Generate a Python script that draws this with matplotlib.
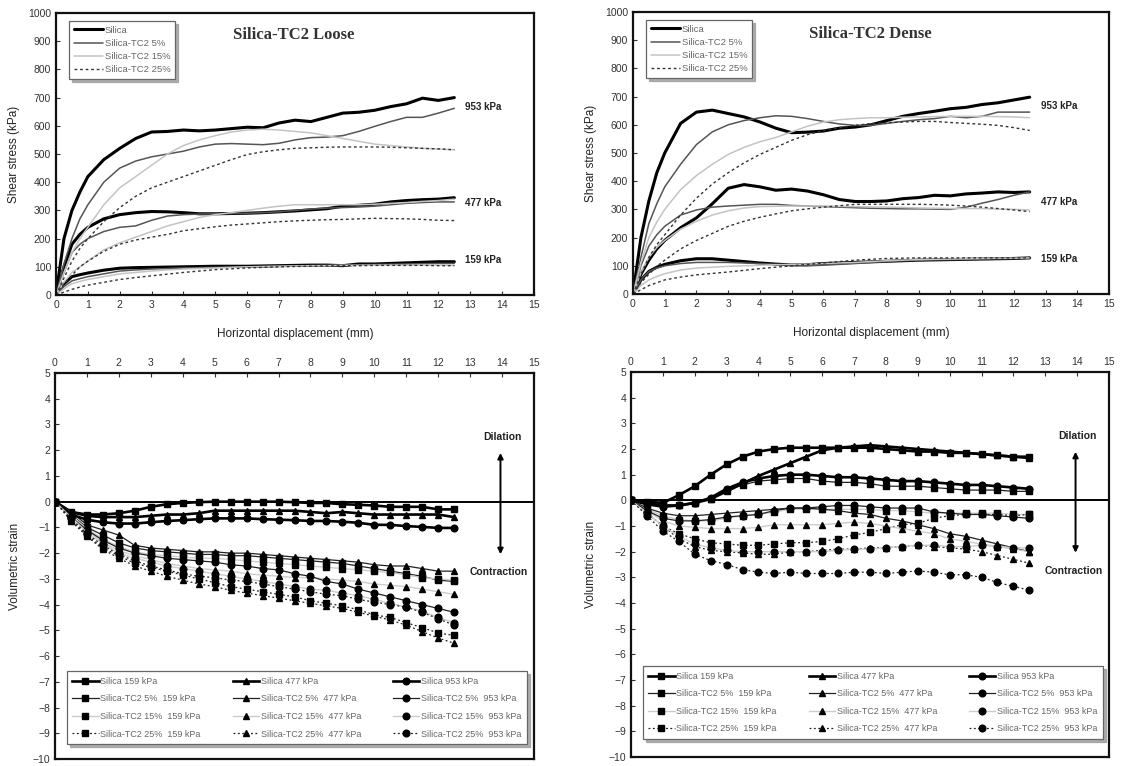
import matplotlib
matplotlib.use('Agg')
import matplotlib.pyplot as plt

plt.rcParams['font.family'] = ['Liberation Sans', 'DejaVu Sans']

# --- shear stress curves (top row) ---
top_x = [0, 0.25, 0.5, 0.75, 1, 1.5, 2, 2.5, 3, 3.5, 4, 4.5, 5, 5.5, 6, 6.5,
         7, 7.5, 8, 8.5, 9, 9.5, 10, 10.5, 11, 11.5, 12, 12.5]

# Loose
L_si_953 = [0, 200, 300, 365, 420, 480, 520, 555, 578, 580, 585, 582, 585, 590, 595, 593, 610, 620, 615, 630, 645, 648, 655, 668, 678, 698, 690, 700]
L_5_953 = [0, 110, 200, 270, 320, 400, 450, 475, 490, 500, 510, 525, 535, 537, 535, 533, 538, 550, 558, 560, 565, 580, 598, 615, 630, 630, 645, 662]
L_15_953 = [0, 80, 150, 200, 240, 320, 380, 420, 460, 500, 530, 550, 565, 578, 585, 588, 585, 580, 575, 565, 555, 545, 535, 530, 525, 520, 518, 515]
L_25_953 = [0, 60, 120, 165, 200, 260, 310, 350, 380, 400, 420, 440, 460, 480, 498, 508, 515, 520, 522, 524, 525, 525, 525, 524, 522, 520, 518, 515]
L_si_477 = [0, 100, 180, 215, 240, 270, 285, 292, 296, 295, 292, 288, 288, 289, 290, 292, 295, 298, 302, 306, 315, 318, 322, 330, 335, 338, 340, 345]
L_5_477 = [0, 80, 150, 180, 200, 225, 240, 245, 265, 280, 285, 287, 288, 289, 290, 292, 295, 300, 305, 308, 310, 312, 315, 320, 325, 328, 330, 330]
L_15_477 = [0, 45, 80, 100, 120, 160, 185, 205, 225, 245, 260, 275, 285, 292, 300, 308, 315, 320, 320, 320, 320, 320, 322, 325, 328, 332, 335, 340]
L_25_477 = [0, 40, 70, 100, 120, 155, 180, 195, 205, 215, 228, 235, 242, 248, 252, 256, 260, 263, 265, 267, 268, 270, 272, 271, 270, 268, 265, 264]
L_si_159 = [0, 40, 65, 72, 78, 88, 95, 97, 98, 99, 100, 101, 102, 102, 102, 103, 104, 105, 106, 106, 104, 110, 110, 112, 114, 116, 118, 118]
L_5_159 = [0, 30, 50, 58, 65, 75, 85, 89, 92, 94, 96, 97, 98, 99, 100, 101, 102, 103, 104, 105, 106, 107, 108, 109, 110, 111, 112, 112]
L_15_159 = [0, 22, 40, 48, 55, 65, 75, 80, 85, 89, 92, 94, 96, 98, 100, 101, 102, 103, 104, 104, 105, 105, 106, 106, 106, 106, 106, 105]
L_25_159 = [0, 10, 20, 28, 35, 45, 55, 62, 68, 74, 80, 85, 90, 93, 96, 98, 100, 101, 102, 103, 104, 104, 105, 105, 105, 105, 104, 104]

# Dense
D_si_953 = [0, 200, 330, 430, 500, 605, 645, 652, 640, 628, 610, 588, 572, 574, 578, 588, 592, 600, 615, 630, 640, 648, 657, 662, 672, 678, 688, 698]
D_5_953 = [0, 130, 250, 320, 380, 460, 530, 575, 600, 615, 625, 632, 630, 622, 612, 603, 598, 598, 605, 612, 618, 622, 630, 625, 630, 645, 645, 645]
D_15_953 = [0, 110, 200, 255, 300, 370, 420, 460, 495, 520, 540, 555, 575, 595, 610, 618, 622, 625, 625, 627, 628, 629, 630, 630, 630, 629, 628, 625]
D_25_953 = [0, 70, 130, 175, 210, 280, 340, 390, 430, 465, 495, 520, 545, 565, 580, 590, 598, 604, 608, 610, 612, 612, 608, 605, 602, 598, 590, 580]
D_si_477 = [0, 70, 120, 160, 190, 235, 270, 320, 375, 388, 380, 368, 372, 365, 352, 335, 328, 328, 330, 338, 342, 350, 348, 355, 358, 362, 360, 362]
D_5_477 = [0, 100, 170, 210, 240, 280, 298, 308, 312, 315, 318, 318, 314, 312, 310, 308, 306, 304, 303, 302, 302, 301, 300, 308, 322, 335, 350, 362]
D_15_477 = [0, 75, 130, 165, 190, 230, 258, 280, 295, 305, 310, 311, 312, 312, 312, 311, 310, 309, 308, 307, 305, 304, 303, 303, 303, 301, 300, 298]
D_25_477 = [0, 40, 70, 98, 120, 160, 190, 215, 240, 258, 272, 284, 295, 302, 308, 313, 318, 318, 318, 318, 318, 317, 315, 312, 308, 303, 298, 292]
D_si_159 = [0, 50, 80, 95, 105, 118, 125, 125, 120, 115, 110, 106, 103, 104, 108, 110, 112, 114, 116, 118, 120, 121, 122, 123, 124, 125, 126, 128]
D_5_159 = [0, 50, 80, 92, 100, 108, 112, 112, 112, 110, 108, 105, 102, 100, 102, 105, 108, 112, 115, 118, 120, 121, 122, 123, 124, 125, 126, 127]
D_15_159 = [0, 30, 50, 62, 72, 85, 92, 95, 98, 100, 102, 104, 105, 106, 108, 110, 112, 115, 118, 120, 122, 123, 124, 125, 126, 127, 127, 128]
D_25_159 = [0, 15, 30, 40, 50, 60, 68, 73, 78, 84, 90, 95, 100, 105, 110, 115, 120, 123, 126, 127, 128, 128, 128, 128, 128, 128, 128, 128]

# --- volumetric strain (bottom row) ---
vol_x = [0, 0.5, 1, 1.5, 2, 2.5, 3, 3.5, 4, 4.5, 5, 5.5, 6, 6.5, 7, 7.5, 8,
         8.5, 9, 9.5, 10, 10.5, 11, 11.5, 12, 12.5]

LV_si_159 = [0, -0.4, -0.5, -0.5, -0.45, -0.35, -0.2, -0.1, -0.05, -0.02, 0, 0, 0, 0, 0, -0.02, -0.05, -0.05, -0.1, -0.12, -0.15, -0.2, -0.2, -0.2, -0.3, -0.3]
LV_si_477 = [0, -0.4, -0.55, -0.6, -0.6, -0.6, -0.55, -0.5, -0.5, -0.45, -0.35, -0.35, -0.35, -0.35, -0.35, -0.35, -0.4, -0.45, -0.4, -0.45, -0.5, -0.5, -0.5, -0.5, -0.5, -0.6]
LV_si_953 = [0, -0.5, -0.7, -0.8, -0.85, -0.85, -0.8, -0.75, -0.72, -0.68, -0.65, -0.65, -0.65, -0.68, -0.7, -0.72, -0.75, -0.75, -0.78, -0.82, -0.9, -0.9, -0.95, -0.98, -1.02, -1.02]
LV_5_159 = [0, -0.5, -1.0, -1.3, -1.6, -1.8, -1.9, -1.95, -2.0, -2.05, -2.05, -2.1, -2.1, -2.15, -2.2, -2.25, -2.3, -2.35, -2.4, -2.5, -2.6, -2.7, -2.8, -2.9, -3.05, -3.1]
LV_5_477 = [0, -0.4, -0.9, -1.1, -1.3, -1.7, -1.8, -1.85, -1.9, -1.95, -1.95, -2.0, -2.0, -2.05, -2.1, -2.15, -2.2, -2.25, -2.3, -2.35, -2.45, -2.5, -2.5, -2.6, -2.7, -2.7]
LV_5_953 = [0, -0.6, -1.1, -1.5, -1.8, -2.0, -2.1, -2.2, -2.25, -2.3, -2.35, -2.45, -2.5, -2.6, -2.65, -2.8, -2.9, -3.1, -3.2, -3.4, -3.55, -3.7, -3.85, -4.0, -4.15, -4.3]
LV_15_159 = [0, -0.55, -1.05, -1.45, -1.75, -1.95, -2.05, -2.1, -2.15, -2.2, -2.2, -2.25, -2.3, -2.35, -2.4, -2.45, -2.5, -2.55, -2.6, -2.65, -2.7, -2.75, -2.85, -2.95, -3.0, -3.05]
LV_15_477 = [0, -0.5, -1.1, -1.6, -1.9, -2.1, -2.25, -2.4, -2.5, -2.6, -2.65, -2.7, -2.8, -2.85, -2.9, -2.95, -2.95, -3.0, -3.05, -3.1, -3.2, -3.25, -3.3, -3.4, -3.5, -3.6]
LV_15_953 = [0, -0.6, -1.2, -1.65, -2.0, -2.2, -2.35, -2.5, -2.6, -2.7, -2.8, -2.9, -3.0, -3.1, -3.2, -3.3, -3.4, -3.45, -3.55, -3.65, -3.8, -3.95, -4.1, -4.25, -4.5, -4.7]
LV_25_159 = [0, -0.7, -1.3, -1.8, -2.1, -2.4, -2.55, -2.7, -2.85, -3.0, -3.15, -3.3, -3.4, -3.5, -3.6, -3.7, -3.85, -3.95, -4.05, -4.2, -4.4, -4.5, -4.7, -4.9, -5.1, -5.2]
LV_25_477 = [0, -0.75, -1.35, -1.85, -2.2, -2.5, -2.7, -2.9, -3.05, -3.2, -3.3, -3.45, -3.55, -3.65, -3.75, -3.85, -3.95, -4.05, -4.15, -4.3, -4.45, -4.6, -4.8, -5.05, -5.3, -5.5]
LV_25_953 = [0, -0.65, -1.25, -1.7, -2.05, -2.3, -2.5, -2.65, -2.8, -2.9, -2.95, -3.05, -3.1, -3.2, -3.3, -3.4, -3.5, -3.6, -3.65, -3.8, -3.9, -4.0, -4.1, -4.3, -4.55, -4.8]

DV_si_159 = [0, -0.05, -0.1, 0.2, 0.55, 1.0, 1.4, 1.7, 1.9, 2.0, 2.05, 2.05, 2.05, 2.05, 2.05, 2.05, 2.0, 1.95, 1.9, 1.9, 1.85, 1.85, 1.8, 1.75, 1.7, 1.7]
DV_si_477 = [0, -0.1, -0.2, -0.2, -0.1, 0.05, 0.35, 0.65, 0.95, 1.2, 1.45, 1.7, 1.95, 2.05, 2.1, 2.15, 2.1, 2.05, 2.0, 1.95, 1.9, 1.85, 1.8, 1.75, 1.7, 1.65]
DV_si_953 = [0, -0.15, -0.25, -0.2, -0.1, 0.1, 0.45, 0.7, 0.85, 0.95, 1.0, 1.0, 0.95, 0.9, 0.9, 0.85, 0.8, 0.75, 0.75, 0.7, 0.65, 0.6, 0.6, 0.55, 0.5, 0.45]
DV_5_159 = [0, -0.15, -0.2, -0.2, -0.1, 0.05, 0.4, 0.6, 0.75, 0.8, 0.85, 0.85, 0.75, 0.7, 0.7, 0.65, 0.55, 0.55, 0.55, 0.5, 0.45, 0.4, 0.4, 0.4, 0.35, 0.35]
DV_5_477 = [0, -0.3, -0.5, -0.6, -0.6, -0.55, -0.5, -0.45, -0.4, -0.35, -0.3, -0.3, -0.35, -0.4, -0.5, -0.55, -0.7, -0.8, -0.95, -1.1, -1.3, -1.4, -1.55, -1.7, -1.85, -2.0]
DV_5_953 = [0, -0.4, -0.7, -0.8, -0.8, -0.75, -0.65, -0.6, -0.55, -0.4, -0.3, -0.3, -0.25, -0.2, -0.2, -0.25, -0.3, -0.3, -0.3, -0.45, -0.5, -0.55, -0.55, -0.6, -0.65, -0.7]
DV_15_159 = [0, -0.35, -0.6, -0.75, -0.8, -0.8, -0.7, -0.6, -0.55, -0.45, -0.35, -0.35, -0.35, -0.35, -0.35, -0.35, -0.4, -0.4, -0.45, -0.5, -0.5, -0.5, -0.5, -0.5, -0.55, -0.55]
DV_15_477 = [0, -0.4, -0.8, -1.0, -1.05, -1.1, -1.1, -1.1, -1.05, -0.95, -0.95, -0.95, -0.95, -0.9, -0.85, -0.9, -1.0, -1.1, -1.2, -1.3, -1.5, -1.6, -1.7, -1.8, -1.9, -2.0]
DV_15_953 = [0, -0.5, -1.0, -1.4, -1.7, -1.85, -1.95, -2.0, -2.0, -2.0, -2.0, -2.0, -2.0, -1.95, -1.9, -1.9, -1.85, -1.8, -1.75, -1.75, -1.8, -1.8, -1.75, -1.8, -1.85, -1.85]
DV_25_159 = [0, -0.5, -1.0, -1.3, -1.5, -1.65, -1.7, -1.75, -1.75, -1.7, -1.65, -1.65, -1.6, -1.5, -1.35, -1.25, -1.1, -0.95, -0.9, -0.7, -0.6, -0.55, -0.55, -0.55, -0.6, -0.55]
DV_25_477 = [0, -0.5, -1.0, -1.5, -1.8, -1.95, -2.0, -2.05, -2.1, -2.1, -2.0, -2.0, -1.95, -1.9, -1.9, -1.85, -1.85, -1.8, -1.75, -1.8, -1.85, -1.9, -2.0, -2.15, -2.3, -2.45]
DV_25_953 = [0, -0.6, -1.2, -1.6, -2.1, -2.35, -2.5, -2.7, -2.8, -2.85, -2.8, -2.85, -2.85, -2.85, -2.8, -2.8, -2.85, -2.8, -2.75, -2.8, -2.9, -2.9, -3.0, -3.2, -3.35, -3.5]

mixes = ['Silica', 'Silica-TC2 5%', 'Silica-TC2 15%', 'Silica-TC2 25%']
pressures = ['159 kPa', '477 kPa', '953 kPa']
pressure_label_y = [124, 327, 665]
titles = ['Silica-TC2 Loose', 'Silica-TC2 Dense']

loose_shear = [[L_si_159, L_si_477, L_si_953], [L_5_159, L_5_477, L_5_953],
               [L_15_159, L_15_477, L_15_953], [L_25_159, L_25_477, L_25_953]]
dense_shear = [[D_si_159, D_si_477, D_si_953], [D_5_159, D_5_477, D_5_953],
               [D_15_159, D_15_477, D_15_953], [D_25_159, D_25_477, D_25_953]]
loose_vol = [[LV_si_159, LV_si_477, LV_si_953], [LV_5_159, LV_5_477, LV_5_953],
             [LV_15_159, LV_15_477, LV_15_953], [LV_25_159, LV_25_477, LV_25_953]]
dense_vol = [[DV_si_159, DV_si_477, DV_si_953], [DV_5_159, DV_5_477, DV_5_953],
             [DV_15_159, DV_15_477, DV_15_953], [DV_25_159, DV_25_477, DV_25_953]]

# styles
shear_style = [dict(color='black', lw=2.2, ls='-'),
               dict(color='#555555', lw=1.1, ls='-'),
               dict(color='#c4c4c4', lw=1.1, ls='-'),
               dict(color='#333333', lw=1.0, ls=(0, (2, 2)))]
vol_style = [dict(color='black', lw=1.9, ls='-'),
             dict(color='#222222', lw=0.9, ls='-'),
             dict(color='#cccccc', lw=1.0, ls='-'),
             dict(color='#222222', lw=0.9, ls=(0, (1.5, 2)))]
markers = ['s', '^', 'o']

W, H = 1121, 766
fig = plt.figure(figsize=(W / 100, H / 100), dpi=100)


def px_axes(l, t, r, b):
    return fig.add_axes([l / W, (H - b) / H, (r - l) / W, (b - t) / H])


def style_frame(ax):
    for s in ax.spines.values():
        s.set_linewidth(1.6)
        s.set_color('#111111')
    ax.tick_params(direction='in', length=3, width=0.8, labelsize=7.5,
                   labelcolor='#333333', color='#333333')


def style_legend(leg):
    leg.get_frame().set_edgecolor('#666666')
    leg.get_frame().set_linewidth(0.9)
    for t in leg.get_texts():
        t.set_color('#666666')


shadow = {'color': '#9a9a9a', 'alpha': 0.8}

# ---- top: shear stress ----
for i, (box, data) in enumerate([((56, 13, 534, 295), loose_shear),
                                  ((633, 12, 1109, 294), dense_shear)]):
    ax = px_axes(*box)
    handles = []
    for m in range(4):
        for p in range(3):
            ln, = ax.plot(top_x, data[m][p], solid_capstyle='round', **shear_style[m])
        handles.append(ln)
    for p in range(3):
        ax.text(12.85, pressure_label_y[p], pressures[p], fontsize=7,
                fontweight='bold', va='center', ha='left', color='#222222')
    ax.set_xlim(0, 15)
    ax.set_ylim(0, 1000)
    ax.set_xticks(range(16))
    ax.set_yticks(range(0, 1001, 100))
    style_frame(ax)
    ax.set_xlabel('Horizontal displacement (mm)', fontsize=8.5, labelpad=13, color='#222222')
    ax.set_ylabel('Shear stress (kPa)', fontsize=8.5, color='#222222', labelpad=6)
    ax.text(7.47, 922, titles[i], fontsize=12, fontweight='bold',
            family=['Liberation Serif', 'DejaVu Serif'], ha='center', va='center',
            color='#333333')
    leg = ax.legend(handles, mixes, loc='upper left', bbox_to_anchor=(0.027, 0.972),
                    fontsize=6.8, handlelength=3.1, labelspacing=0.45, borderpad=0.5,
                    handletextpad=0.2, frameon=True, fancybox=False, shadow=shadow,
                    borderaxespad=0)
    style_legend(leg)

# ---- bottom: volumetric strain ----
for i, (box, data, legbox) in enumerate([
        ((55, 373, 534, 759), loose_vol, (0.025, 0.039, 0.96, 0.19)),
        ((631, 372, 1109, 757), dense_vol, (0.025, 0.047, 0.962, 0.19))]):
    ax = px_axes(*box)
    ax.axhline(0, color='black', lw=1.4, zorder=1)
    handles, labels = [], []
    for p in range(3):
        for m in range(4):
            ln, = ax.plot(vol_x, data[m][p], marker=markers[p], ms=4.8,
                          mfc='black', mec='black', zorder=3, **vol_style[m])
            handles.append(ln)
            labels.append(mixes[m] + ' ' + pressures[p] if m == 0
                          else mixes[m] + '  ' + pressures[p])
    ax.set_xlim(0, 15)
    ax.set_ylim(-10, 5)
    ax.set_xticks(range(16))
    ax.set_yticks(range(-10, 6))
    ax.xaxis.tick_top()
    style_frame(ax)
    ax.set_ylabel('Volumetric strain', fontsize=8.5, color='#222222', labelpad=8)
    ax.annotate('', xy=(13.95, 2.0), xytext=(13.95, -2.15),
                arrowprops=dict(arrowstyle='<|-|>', color='black', lw=1.4,
                                mutation_scale=8))
    ax.text(14.0, 2.5, 'Dilation', fontsize=7.5, fontweight='bold', ha='center',
            va='center', color='#222222')
    ax.text(13.9, -2.75, 'Contraction', fontsize=7.5, fontweight='bold',
            ha='center', va='center', color='#222222')
    leg = ax.legend(handles, labels, ncol=3, mode='expand', loc='lower left',
                    bbox_to_anchor=legbox, fontsize=6.5, handlelength=2.9,
                    labelspacing=0.95, borderpad=0.6, handletextpad=0.2,
                    numpoints=1, frameon=True, fancybox=False, shadow=shadow,
                    borderaxespad=0, columnspacing=1.0)
    style_legend(leg)

fig.savefig('out.png', dpi=100)
